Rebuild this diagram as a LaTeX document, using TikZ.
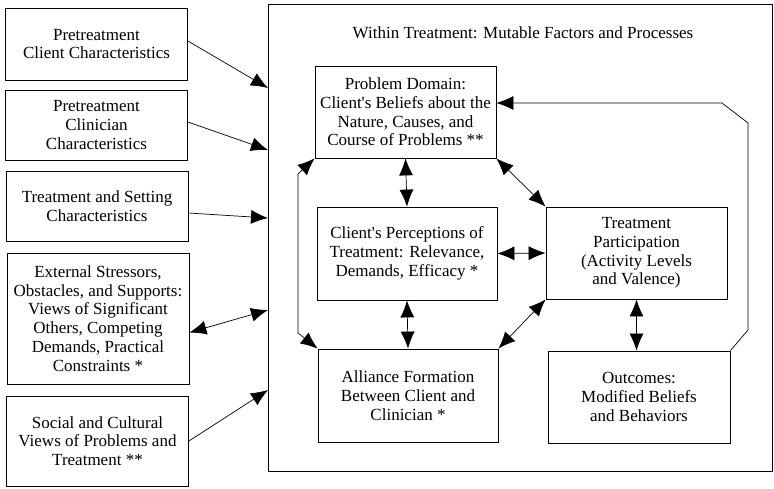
\documentclass[tikz,border=0pt]{standalone}
\usepackage{fontspec}
\setmainfont{Liberation Serif}
\usetikzlibrary{
  arrows.meta,
  positioning
}

\begin{document}
\begin{tikzpicture}[
  x=1pt, y=-1pt,
  font=\fontsize{17}{18.7}\selectfont,
  >={Latex[length=17pt,width=14pt]},
  box/.style={
    draw, line width=0.8pt,
    align=center, inner sep=1pt
  },
  side/.style={box,
    minimum width=182pt},
  core/.style={box,
    minimum width=181pt, minimum height=92pt},
  arrow/.style={
    ->, line width=0.7pt},
  twoway/.style={
    <->, line width=0.7pt}
]
\useasboundingbox (0,0) rectangle (774,488);

% pretreatment and context factors
\node[side, minimum height=72pt] (pcc) at (96.5,44)
  {Pretreatment\\Client Characteristics};
\node[side, minimum height=70pt] (pcl) at (96.5,125)
  {Pretreatment\\Clinician\\Characteristics};
\node[side, minimum height=70pt] (tsc) at (97,206)
  {Treatment and Setting\\Characteristics};
\node[side, minimum height=131pt] (ext) at (98,318.5)
  {External Stressors,\\Obstacles, and Supports:\\Views of Significant\\Others, Competing\\Demands, Practical\\Constraints *};
\node[side, minimum height=90pt] (soc) at (97.5,441)
  {Social and Cultural\\Views of Problems and\\Treatment **};

% within treatment
\node[box, minimum width=504pt,
  minimum height=467pt] (within) at (520,237.5) {};
\node (title) at (523,33)
  {Within Treatment: Mutable Factors and Processes};

\node[core] (pd) at (405.5,112)
  {Problem Domain:\\Client\textquotesingle s Beliefs about the\\Nature, Causes, and\\Course of Problems **};
\node[core, minimum width=180pt, minimum height=93pt] (cp) at (407,253.5)
  {Client\textquotesingle s Perceptions of\\Treatment: Relevance,\\Demands, Efficacy *};
\node[core, minimum width=180pt, minimum height=93pt] (al) at (408,395.5)
  {Alliance Formation\\Between Client and\\Clinician *};
\node[core] (tp) at (636.5,253)
  {Treatment\\Participation\\(Activity Levels\\and Valence)};
\node[core, minimum width=182pt] (oc) at (639,397)
  {Outcomes:\\Modified Beliefs\\and Behaviors};

% entry points on the within box
\coordinate (in1) at (268,88);
\coordinate (in2) at (268,150);
\coordinate (in3) at (268,218);
\coordinate (in4) at (268,310);
\coordinate (in5) at (268,390);

\draw[arrow] ([yshift=3pt]pcc.east) -- (in1);
\draw[arrow] ([yshift=3pt]pcl.east) -- (in2);
\draw[arrow] ([yshift=-7pt]tsc.east) -- (in3);
\draw[twoway] ([yshift=-14pt]ext.east) -- (in4);
\draw[arrow] (soc.east) -- (in5);

% links among mutable factors
\foreach \a/\b in
  {pd.south/cp.north, cp.south/al.north,
   pd.south east/tp.north west, cp.east/tp.west,
   al.north east/tp.south west}{
  \draw[twoway] (\a) -- (\b);
}
\draw[twoway] (tp.south) -- (tp.south |- oc.north);

% left loop
\coordinate (lt) at (298,174);
\coordinate (lb) at (298,333);
\draw[twoway] (pd.south west) -- (lt) -- (lb) -- (al.north west);

% feedback from outcomes
\coordinate (r1) at (748,330);
\coordinate (r2) at (748,123);
\coordinate (r3) at (722,103);
\draw[arrow] (oc.north east) -- (r1) -- (r2) -- (r3)
  -- ([yshift=9pt]pd.east);
\end{tikzpicture}
\end{document}
